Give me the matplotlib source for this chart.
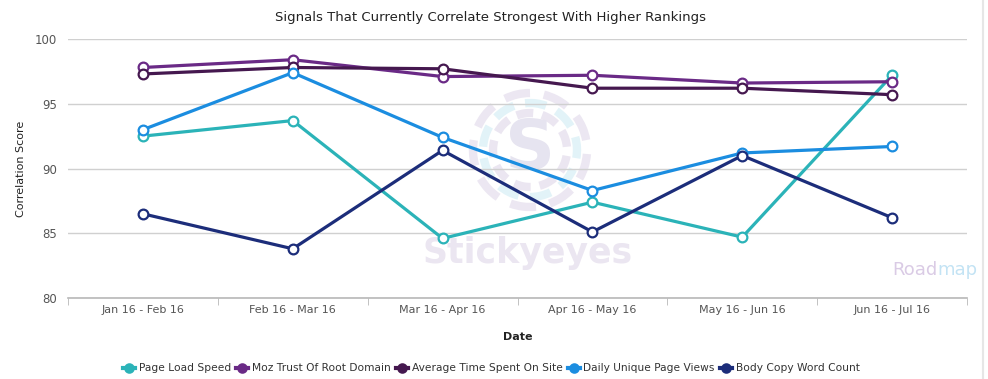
import matplotlib.pyplot as plt
import numpy as np
from matplotlib.patches import Arc

periods = ["Jan 16 - Feb 16", "Feb 16 - Mar 16", "Mar 16 - Apr 16",
           "Apr 16 - May 16", "May 16 - Jun 16", "Jun 16 - Jul 16"]

page_load_speed = [92.5, 93.7, 84.6, 87.4, 84.7, 97.2]
moz_trust = [97.8, 98.4, 97.1, 97.2, 96.6, 96.7]
avg_time_on_site = [97.3, 97.8, 97.7, 96.2, 96.2, 95.7]
daily_unique_views = [93.0, 97.4, 92.4, 88.3, 91.2, 91.7]
body_copy_words = [86.5, 83.8, 91.4, 85.1, 91.0, 86.2]

series_names = ["Page Load Speed", "Moz Trust Of Root Domain", "Average Time Spent On Site",
                "Daily Unique Page Views", "Body Copy Word Count"]
series_values = [page_load_speed, moz_trust, avg_time_on_site, daily_unique_views, body_copy_words]
colors = ["#2bb3b8", "#6a2a86", "#45184f", "#1b8de0", "#1c2d7a"]

fig = plt.figure(figsize=(9.88, 3.79), dpi=100)
ax = fig.add_axes([68/988, 1 - 298/379, 899/988, 259/379])

# watermark: logo rings + text
wm = fig.add_axes(ax.get_position(), zorder=0)
wm.set_xlim(0, 899)
wm.set_ylim(0, 259)
wm.set_aspect("equal")
wm.axis("off")
cx, cy = 530 - 68, 298 - 150
for r, col, lw, off in [(57, "#ece7f2", 6, 10), (47, "#e2f3f8", 6, 30), (37, "#ebe6f1", 6, 5)]:
    for k in range(9):
        a0 = k * 40 + off
        wm.add_patch(Arc((cx, cy), 2 * r, 2 * r, theta1=a0, theta2=a0 + 26,
                         color=col, lw=lw))
wm.text(cx, cy, "S", ha="center", va="center", fontsize=50, color="#e6e4f0",
        fontweight="bold")
wm.text(528 - 68, 298 - 253, "Stickyeyes", ha="center", va="center", fontsize=25,
        color="#ebe6f1", fontweight="bold")
wm.text(937 - 68, 298 - 270, "Road", ha="right", va="center", fontsize=13, color="#dacbe5")
wm.text(937 - 68, 298 - 270, "map", ha="left", va="center", fontsize=13, color="#c3e3f4")

ax.set_zorder(1)
ax.patch.set_alpha(0)
x = np.arange(len(periods))
for name, vals, col in zip(series_names, series_values, colors):
    ax.plot(x, vals, color=col, lw=2.3, marker="o", markersize=7,
            markerfacecolor="white", markeredgecolor=col, markeredgewidth=1.6,
            label=name)

ax.set_xlim(-0.5, len(periods) - 0.5)
ax.set_ylim(80, 100)
ax.set_yticks([80, 85, 90, 95, 100])
ax.yaxis.grid(True, color="#d0d0d0", lw=1)
ax.set_axisbelow(True)
for s in ["top", "right", "left"]:
    ax.spines[s].set_visible(False)
ax.spines["bottom"].set_color("#b8b8b8")
ax.spines["bottom"].set_linewidth(1.2)
ax.tick_params(axis="y", length=0, labelsize=8.5, labelcolor="#555555", pad=8)
ax.set_xticks(x)
ax.set_xticklabels(periods)
ax.tick_params(axis="x", length=0, labelsize=8, labelcolor="#555555", pad=5)
ax.set_xticks(np.arange(-0.5, len(periods), 1.0), minor=True)
ax.tick_params(axis="x", which="minor", length=5, color="#b8b8b8")

ax.set_xlabel("Date", fontsize=8, fontweight="bold", labelpad=12, color="#222222")
ax.set_ylabel("Correlation Score", fontsize=8, color="#222222", labelpad=6)
fig.text(490 / 988, 1 - 17/379, "Signals That Currently Correlate Strongest With Higher Rankings",
         ha="center", va="center", fontsize=9.5, color="#222222")

leg = ax.legend(loc="center", bbox_to_anchor=(0.471, -0.272), ncol=5, frameon=False,
                fontsize=7.7, handlelength=1.1, columnspacing=0.5, handletextpad=0.35,
                labelcolor="#333333")
for h, col in zip(leg.legend_handles, colors):
    h.set_markerfacecolor(col)
    h.set_markeredgecolor(col)
    h.set_linewidth(3)
    h.set_markersize(6)

fig.add_artist(plt.Line2D([983/988, 983/988], [0, 1], color="#e6e6e6", lw=1.5))

fig.savefig("out.png", dpi=100)
